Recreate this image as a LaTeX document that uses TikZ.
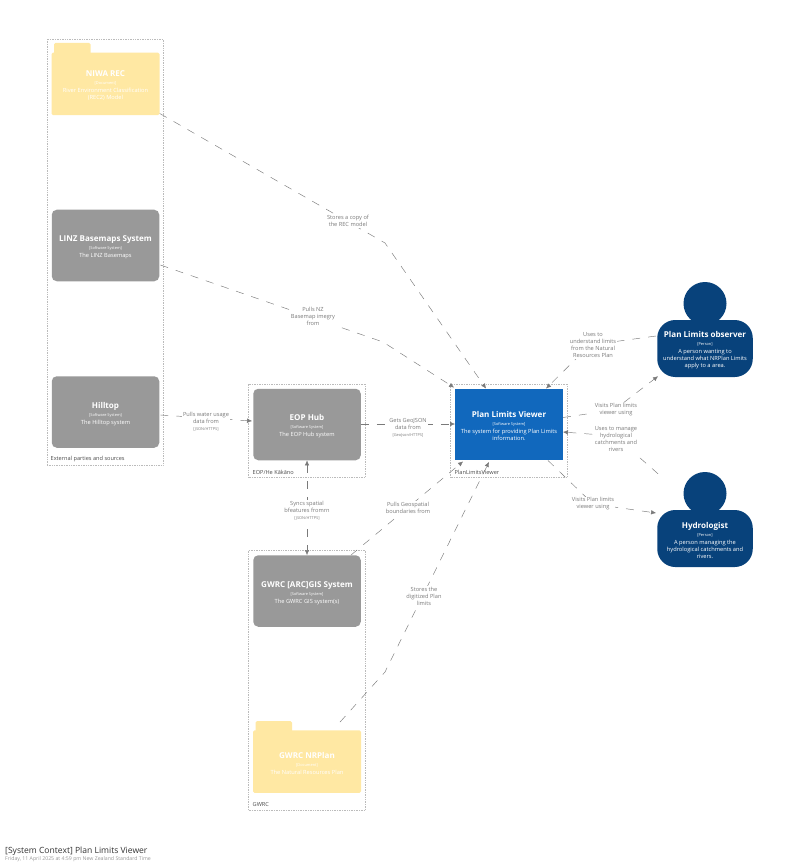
\documentclass[tikz,border=0pt]{standalone}
\usepackage{fontspec}
\setmainfont{Open Sans}
\usetikzlibrary{calc,arrows.meta}
\definecolor{fold}{HTML}{FFE8A3}
\definecolor{sysgrey}{HTML}{999999}
\definecolor{sysblue}{HTML}{1168BD}
\definecolor{persblue}{HTML}{08427B}
\definecolor{linecol}{HTML}{7A7A7A}
\definecolor{boundcol}{HTML}{BBBBBB}
\newcommand{\nm}[1]{{\fontsize{8.05}{7.2}\selectfont\bfseries\rule{0pt}{9.5pt}#1}}
\newcommand{\tg}[1]{{\fontsize{3.9}{7.2}\selectfont #1}}
\newcommand{\ds}[1]{{\fontsize{5.7}{7.2}\selectfont #1}}
\tikzset{
  x=1pt,y=-1pt,
  elem/.style={inner sep=0pt,text=white,align=center,minimum width=107.5pt,font=\fontsize{5.7}{7.2}\selectfont},
  sysbox/.style={elem,fill=sysgrey,rounded corners=5pt,minimum height=71.5pt},
  mainbox/.style={elem,fill=sysblue,minimum height=71.5pt},
  foldbox/.style={elem,fill=fold,rounded corners=1.5pt,minimum width=108pt,minimum height=62.5pt},
  foldtab/.style={fill=fold,rounded corners=1.5pt,draw=none},
  persbody/.style={elem,fill=persblue,rounded corners=18pt,minimum width=95.5pt,minimum height=57pt},
  pershead/.style={circle,fill=persblue,inner sep=0pt,minimum size=43pt},
  bound/.style={draw=boundcol,dash pattern=on 0.7pt off 1pt,line width=0.5pt,fill=none,inner sep=0pt},
  boundlabel/.style={anchor=west,inner sep=0pt,text=black!70,font=\fontsize{5.6}{6}\selectfont},
  rel/.style={draw=linecol,line width=0.45pt,dash pattern=on 8pt off 8pt,-{Latex[length=5pt,width=4.5pt]}},
  relboth/.style={rel,{Latex[length=5pt,width=4.5pt]}-{Latex[length=5pt,width=4.5pt]}},
  lab/.style={fill=white,inner sep=1pt,text=linecol,align=center,font=\fontsize{5.65}{7}\selectfont},
}
\begin{document}
\begin{tikzpicture}
\path[use as bounding box,fill=white] (0,0) rectangle (800,866);
% boundaries
\node[bound,minimum width=116pt,minimum height=426pt] (bext) at (105,252) {};
\node[bound,minimum width=117pt,minimum height=93pt] (beop) at (307,430.5) {};
\node[bound,minimum width=117pt,minimum height=93pt] (bplv) at (509,430.5) {};
\node[bound,minimum width=117pt,minimum height=260pt] (bgwrc) at (307,680) {};
\node[boundlabel] (tbext) at (50.5,459.5) {External parties and sources};
\node[boundlabel] (tbeop) at (252.5,472) {EOP/He Kākāno};
\node[boundlabel] (tbplv) at (454.5,472) {PlanLimitsViewer};
\node[boundlabel] (tbgwrc) at (252.5,804.5) {GWRC};
% folders
\fill[foldtab] (54,60) rectangle (90.5,43);
\node[foldbox] (niwa) at (105.5,84) {\nm{NIWA REC}\\[0.8pt]\tg{[Document]}\\[0.8pt]\ds{River Environment Classification}\\\ds{(REC2) Model}};
\fill[foldtab] (255.5,740) rectangle (292,721);
\node[foldbox] (nrplan) at (307,761.5) {\nm{GWRC NRPlan}\\[0.8pt]\tg{[Document]}\\[0.8pt]\ds{The Natural Resources Plan}};
% systems
\node[sysbox] (linz) at (105.5,245.5) {\nm{LINZ Basemaps System}\\[0.8pt]\tg{[Software System]}\\[0.8pt]\ds{The LINZ Basemaps}};
\node[sysbox] (hilltop) at (105.5,412) {\nm{Hilltop}\\[0.8pt]\tg{[Software System]}\\[0.8pt]\ds{The Hilltop system}};
\node[sysbox] (eop) at (307,424.5) {\nm{EOP Hub}\\[0.8pt]\tg{[Software System]}\\[0.8pt]\ds{The EOP Hub system}};
\node[sysbox] (arc) at (307,591) {\nm{GWRC [ARC]GIS System}\\[0.8pt]\tg{[Software System]}\\[0.8pt]\ds{The GWRC GIS system(s)}};
\node[mainbox] (plv) at (509,424.5) {\nm{Plan Limits Viewer}\\[0.8pt]\tg{[Software System]}\\[0.8pt]\ds{The system for providing Plan Limits}\\\ds{information.}};
% persons
\node[pershead] (obshead) at (705,303.5) {};
\node[persbody] (obs) at (705,348.5) {\nm{Plan Limits observer}\\[0.8pt]\tg{[Person]}\\[0.8pt]\ds{A person wanting to}\\\ds{understand what NRPlan Limits}\\\ds{apply to a area.}};
\node[pershead] (hydhead) at (705,493.5) {};
\node[persbody] (hyd) at (705,538.5) {\nm{Hydrologist}\\[0.8pt]\tg{[Person]}\\[0.8pt]\ds{A person managing the}\\\ds{hydrological catchments and}\\\ds{rivers.}};
% bends
\coordinate (b1) at (385,243);
\coordinate (b2) at (383,342);
\coordinate (b3) at (385,672);
\coordinate (b4) at (590,345);
\coordinate (b5) at (614,410);
\coordinate (b6) at (615,436);
\coordinate (b7) at (593,504);
% connectors
\draw[rel] ($(niwa.south east)+(0,-2)$) -- (b1) -- ($(plv.north)+(-23,0)$);
\draw[rel] ($(linz.east)+(1,19.5)$) -- (b2) -- ($(plv.north west)+(-1,-1)$);
\draw[rel] ($(hilltop.east)+(1,3)$) -- ($(eop.west)+(-1,-3.5)$);
\draw[rel] ($(eop.east)+(0,-0.5)$) -- ($(plv.west)+(0,-0.5)$);
\draw[relboth] (eop.south) -- (arc.north);
\draw[rel] ($(arc.north)+(44,0)$) -- ($(plv.south west)+(8,1)$);
\draw[rel] ($(nrplan.north)+(33,-8)$) -- (b3) -- ($(plv.south)+(-20,1.5)$);
\draw[rel] ($(obs.west)+(-1,-12.5)$) -- (b4) -- ($(plv.north)+(37,0)$);
\draw[rel] ($(plv.east)+(0,-7)$) -- (b5) -- ($(obs.south west)+(1,-1)$);
\draw[rel] ($(hyd.north west)+(1,-36)$) -- (b6) -- ($(plv.east)+(0,7.5)$);
\draw[rel] ($(plv.south east)+(-15,0)$) -- (b7) -- ($(hyd.west)+(-1,-25.5)$);
% labels
\node[lab] (l1) at (348,221) {Stores a copy of\\the REC model};
\node[lab] (l2) at (313,316) {Pulls NZ\\Basemap imegry\\from};
\node[lab] (l3) at (206,421.5) {Pulls water usage\\data from\\\tg{[JSON/HTTPS]}};
\node[lab] (l4) at (408,427.5) {Gets GeoJSON\\data from\\\tg{[GeoJson/HTTPS]}};
\node[lab] (l5) at (307,510.5) {Syncs spatial\\bfeatures fromrn\\\tg{[JSON/HTTPS]}};
\node[lab] (l6) at (408,508) {Pulls Geospatial\\boundaries from};
\node[lab] (l7) at (424,596) {Stores the\\digitized Plan\\limits};
\node[lab] (l8) at (593,345) {Uses to\\understand limits\\from the Natural\\Resources Plan};
\node[lab] (l9) at (616,410) {Visits Plan limits\\viewer using};
\node[lab] (l10) at (616,439) {Uses to manage\\hydrological\\catchments and\\rivers};
\node[lab] (l11) at (593,504) {Visits Plan limits\\viewer using};
% title
\node[anchor=west,inner sep=0pt,text=black!80,font=\fontsize{8.55}{9}\selectfont] (title) at (5,851) {[System Context] Plan Limits Viewer};
\node[anchor=west,inner sep=0pt,text=black!40,font=\fontsize{5.2}{6}\selectfont] (date) at (5,859.5) {Friday, 11 April 2025 at 4:59 pm New Zealand Standard Time};
\end{tikzpicture}
\end{document}
